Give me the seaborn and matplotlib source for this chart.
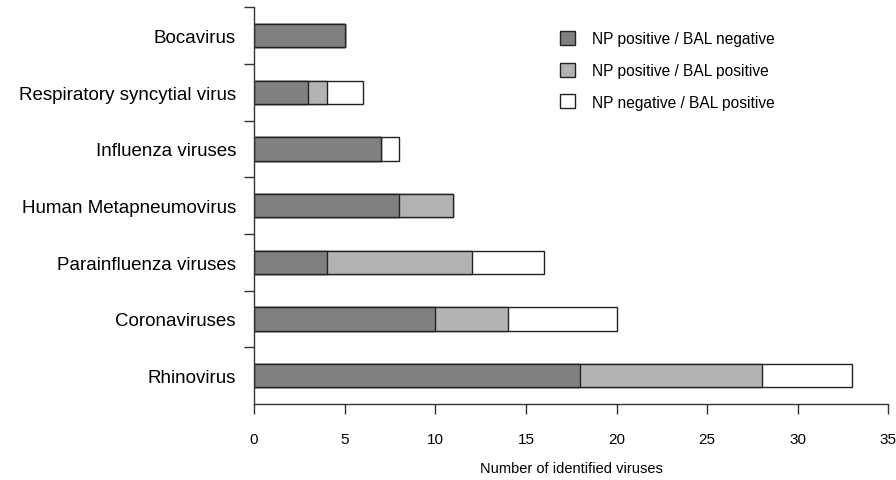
import matplotlib
matplotlib.use('Agg')
import matplotlib.pyplot as plt
import seaborn as sns
import numpy as np
import pandas as pd
from matplotlib.patches import Patch

viruses = ['Bocavirus', 'Respiratory syncytial virus', 'Influenza viruses',
           'Human Metapneumovirus', 'Parainfluenza viruses', 'Coronaviruses', 'Rhinovirus']
np_pos_bal_neg = [5, 3, 7, 8, 4, 10, 18]
np_pos_bal_pos = [0, 1, 0, 3, 8, 4, 10]
np_neg_bal_pos = [0, 2, 1, 0, 4, 6, 5]
series_names = ['NP positive / BAL negative', 'NP positive / BAL positive', 'NP negative / BAL positive']
colors = ['#808080', '#b3b3b3', '#ffffff']

sns.set_style('white')
plt.rcParams['font.family'] = ['Liberation Sans', 'DejaVu Sans']
plt.rcParams['text.color'] = 'black'
plt.rcParams['xtick.color'] = 'black'
plt.rcParams['ytick.color'] = 'black'
plt.rcParams['axes.labelcolor'] = 'black'

df = pd.DataFrame({'virus': viruses,
                   'a': np_pos_bal_neg,
                   'b': np_pos_bal_pos,
                   'c': np_neg_bal_pos})
df['ab'] = df['a'] + df['b']
df['abc'] = df['ab'] + df['c']

fig = plt.figure(figsize=(8.96, 4.81), dpi=100)
ax = fig.add_axes([0.2835, 0.158, 0.708, 0.825])

# stacked by overlaying cumulative totals
for col, c in zip(['abc', 'ab', 'a'], colors[::-1]):
    sns.barplot(data=df, x=col, y='virus', orient='h', color=c, width=0.41,
                edgecolor='#222222', linewidth=1.0, saturation=1, ax=ax)
for p in ax.patches:
    if p.get_width() == 0:
        p.set_visible(False)

ax.set_xlim(0, 35)
ax.set_ylim(6.5, -0.5)
ax.set_xticks(np.arange(0, 36, 5))
ax.set_yticks(range(len(viruses)))
ax.set_yticklabels(viruses, fontsize=13.5)
ax.set_yticks(np.arange(-0.5, 6, 1), minor=True)
ax.tick_params(axis='y', which='major', length=0, pad=13)
ax.tick_params(axis='y', which='minor', length=7, width=1, color='#333333', left=True)
ax.tick_params(axis='x', which='major', length=7, width=1, color='#333333', bottom=True,
               pad=13, labelsize=11)
ax.set_xlabel('Number of identified viruses', fontsize=10.5, labelpad=11)
ax.set_ylabel('')

for s in ['top', 'right']:
    ax.spines[s].set_visible(False)
for s in ['left', 'bottom']:
    ax.spines[s].set_color('#333333')
    ax.spines[s].set_linewidth(1)

handles = [Patch(facecolor=c, edgecolor='#222222', linewidth=1) for c in colors]
ax.legend(handles, series_names, loc='upper left', bbox_to_anchor=(0.46, 0.975),
          frameon=False, fontsize=11.2, handlelength=1.0, handleheight=1.0,
          labelspacing=1.05, handletextpad=1.1)

fig.savefig('out.png', dpi=100)
